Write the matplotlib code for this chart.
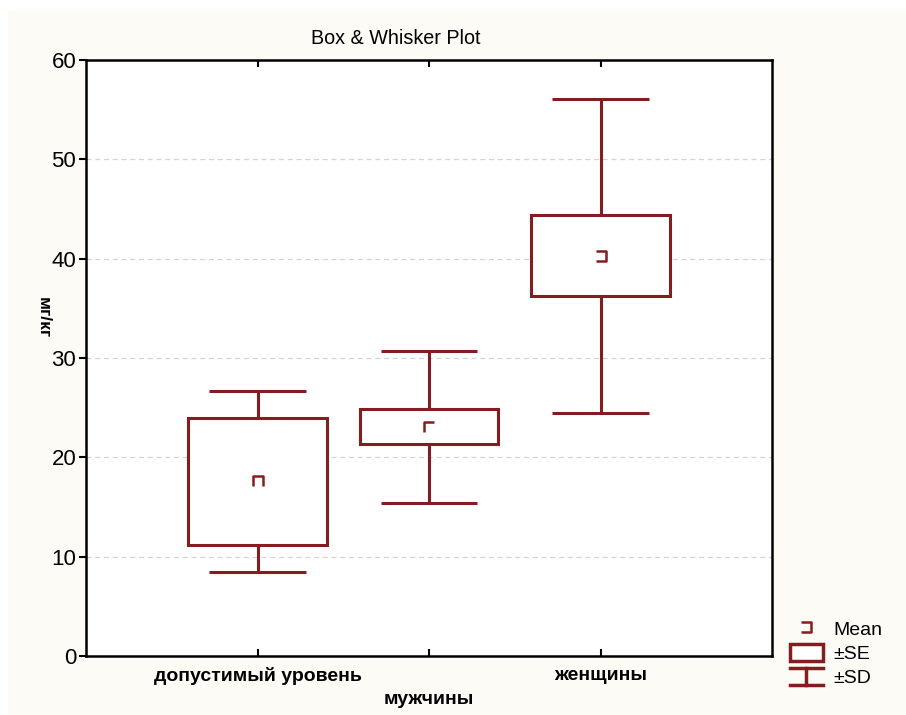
import matplotlib
matplotlib.use('Agg')
import matplotlib.pyplot as plt
from matplotlib.path import Path
from matplotlib.patches import Rectangle
from matplotlib.lines import Line2D
from matplotlib.legend_handler import HandlerBase

# Data
groups = ['допустимый уровень', 'мужчины', 'женщины']
means = [17.6, 23.1, 40.3]
se = [6.4, 1.75, 4.1]
sd = [9.1, 7.65, 15.8]
y_ticks = [0, 10, 20, 30, 40, 50, 60]

dark_red = '#841C20'
plt.rcParams['font.family'] = ['Liberation Sans', 'DejaVu Sans']

# small bracket glyphs used for the mean markers
bracket_right = Path([(-1, 1), (1, 1), (1, -1), (-1, -1)],
                     [Path.MOVETO, Path.LINETO, Path.LINETO, Path.LINETO])
bracket_down = Path([(-1, -1), (-1, 1), (1, 1), (1, -1)],
                    [Path.MOVETO, Path.LINETO, Path.LINETO, Path.LINETO])
bracket_corner = Path([(-1, -1), (-1, 1), (1, 1)],
                      [Path.MOVETO, Path.LINETO, Path.LINETO])
mean_markers = [bracket_down, bracket_corner, bracket_right]

fig = plt.figure(figsize=(9.06, 7.15), dpi=100, facecolor='white')
fig.patches.append(Rectangle((8 / 906, 0), 1, 1 - 10 / 715, transform=fig.transFigure,
                             facecolor='#FDFBF5', edgecolor='none', zorder=-10))
ax = fig.add_axes([86 / 906, 1 - 656 / 715, (772 - 86) / 906, (656 - 60) / 715])
ax.set_facecolor('white')

box_w = 0.81
cap_w = 0.56
for i, (m, s_e, s_d) in enumerate(zip(means, se, sd)):
    x = i + 1
    ax.add_patch(Rectangle((x - box_w / 2, m - s_e), box_w, 2 * s_e, facecolor='white',
                           edgecolor=dark_red, linewidth=2.2, zorder=3))
    ax.vlines(x, m + s_e, m + s_d, color=dark_red, linewidth=2.2, zorder=3)
    ax.vlines(x, m - s_d, m - s_e, color=dark_red, linewidth=2.2, zorder=3)
    ax.hlines([m + s_d, m - s_d], x - cap_w / 2, x + cap_w / 2, color=dark_red,
              linewidth=2.2, zorder=3)
    ax.plot(x, m, marker=mean_markers[i], markersize=7, markerfacecolor='none',
            markeredgecolor=dark_red, markeredgewidth=1.8, linestyle='none', zorder=4)

ax.set_xlim(0, 4)
ax.set_ylim(0, 60)
ax.set_yticks(y_ticks)
ax.set_xticks([1, 2, 3])
ax.set_xticklabels(groups, fontsize=14, fontweight='bold')
ax.tick_params(axis='x', direction='in', top=True, length=5, width=1.5, pad=8)
ax.tick_params(axis='y', direction='out', length=5, width=1.5, labelsize=16, pad=2)
# the middle label sits one row lower, as in the original
ax.xaxis.get_major_ticks()[1].set_pad(25)
ax.grid(axis='y', color='#d4d4d4', linestyle=(0, (4, 3)), linewidth=0.9)
ax.set_axisbelow(True)
for sp in ax.spines.values():
    sp.set_linewidth(1.8)

fig.text(396 / 906, 1 - 38 / 715, 'Box & Whisker Plot', fontsize=14.2,
         ha='center', va='center')
fig.text(43 / 906, 1 - 318 / 715, 'мг/кг', fontsize=12.5, fontweight='bold',
         rotation=270, ha='center', va='center')


class SDHandler(HandlerBase):
    def create_artists(self, legend, orig_handle, xdescent, ydescent, width, height,
                       fontsize, trans):
        x0, x1 = -xdescent, -xdescent + width
        xm = (x0 + x1) / 2
        y0, y1 = -ydescent, -ydescent + height
        parts = [Line2D([x0, x1], [y1, y1]), Line2D([x0, x1], [y0, y0]),
                 Line2D([xm, xm], [y0, y1])]
        for p in parts:
            p.set_color(dark_red)
            p.set_linewidth(2.5)
            p.set_transform(trans)
        return parts


mean_handle = Line2D([], [], marker=bracket_right, markersize=7, markerfacecolor='none',
                     markeredgecolor=dark_red, markeredgewidth=1.8, linestyle='none')
se_handle = Rectangle((0, 0), 1, 1, facecolor='white', edgecolor=dark_red, linewidth=2.5)
sd_handle = Line2D([], [])
fig.legend([mean_handle, se_handle, sd_handle], ['Mean', '±SE', '±SD'],
           handler_map={sd_handle: SDHandler()},
           loc='upper left', bbox_to_anchor=(776 / 906, 1 - 606 / 715),
           frameon=False, fontsize=14, handlelength=1.7, handleheight=1.0,
           handletextpad=0.55, labelspacing=0.25, borderpad=0.2)

fig.savefig('out.png', dpi=100, facecolor=fig.get_facecolor())
